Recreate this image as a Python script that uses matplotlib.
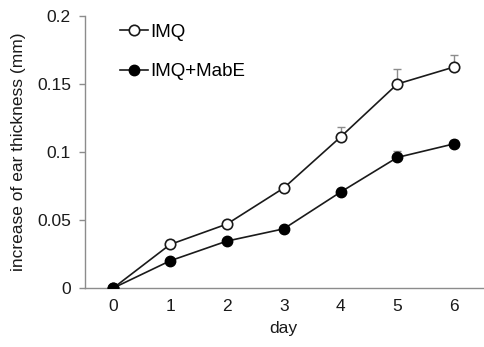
import matplotlib
matplotlib.use('agg')
import matplotlib.pyplot as plt
from matplotlib.ticker import FuncFormatter

days = [0, 1, 2, 3, 4, 5, 6]
imq = [0.0, 0.032, 0.047, 0.0735, 0.111, 0.150, 0.1625]
imq_err = [0.0, 0.003, 0.0015, 0.0015, 0.0075, 0.011, 0.0085]
mabe = [0.0, 0.020, 0.0345, 0.0435, 0.0705, 0.096, 0.106]
mabe_err = [0.0, 0.0015, 0.0015, 0.0015, 0.002, 0.005, 0.003]
yticks = [0, 0.05, 0.1, 0.15, 0.2]

plt.rcParams['font.family'] = ['Liberation Sans', 'DejaVu Sans']

fig = plt.figure(figsize=(4.85, 3.47), dpi=100)
ax = fig.add_axes([0.175, 0.17, 0.82, 0.784])

grey = '#8c8c8c'
ax.errorbar(days, imq, yerr=[[0] * 7, imq_err], fmt='none', ecolor=grey,
            elinewidth=1, capsize=3, capthick=1, zorder=1)
ax.errorbar(days, mabe, yerr=[[0] * 7, mabe_err], fmt='none', ecolor=grey,
            elinewidth=1, capsize=3, capthick=1, zorder=1)
ax.plot(days, imq, '-o', color='#1a1a1a', lw=1.2, ms=7.5, mfc='white',
        mec='#1a1a1a', mew=1.2, label='IMQ', zorder=3)
ax.plot(days, mabe, '-o', color='#1a1a1a', lw=1.2, ms=7.5, mfc='black',
        mec='black', label='IMQ+MabE', zorder=3)

ax.set_xlim(-0.5, 6.5)
ax.set_ylim(0, 0.2)
ax.set_xticks(days)
ax.set_yticks(yticks)
ax.yaxis.set_major_formatter(FuncFormatter(lambda v, p: ('%g' % v)))

for s in ['top', 'right']:
    ax.spines[s].set_visible(False)
for s in ['left', 'bottom']:
    ax.spines[s].set_color(grey)
    ax.spines[s].set_linewidth(1)
ax.tick_params(axis='x', length=0, pad=8, labelsize=12.5, colors='#1a1a1a')
ax.tick_params(axis='y', length=4, width=1, color=grey, pad=6, labelsize=12.5,
               labelcolor='#1a1a1a')

ax.set_xlabel('day', fontsize=12.5, labelpad=5, color='#1a1a1a')
ax.set_ylabel('increase of ear thickness (mm)', fontsize=12.5, labelpad=8,
              color='#1a1a1a')

ax.legend(loc='upper left', bbox_to_anchor=(0.07, 1.0), frameon=False,
          fontsize=13.5, handlelength=1.5, handletextpad=0.1, labelspacing=1.2,
          borderaxespad=0)

fig.savefig('out.png', dpi=100)
